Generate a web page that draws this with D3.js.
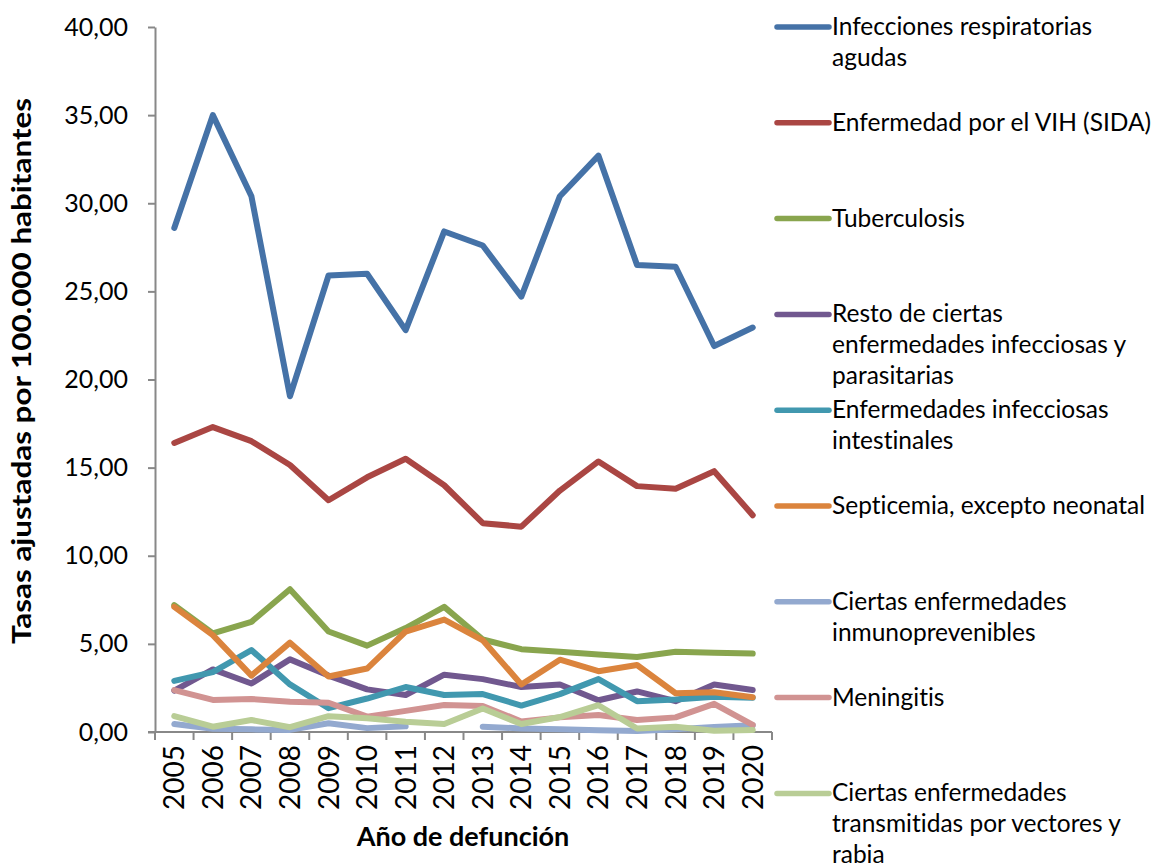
<!DOCTYPE html>
<html>
<head>
<meta charset="utf-8">
<script src="https://cdn.jsdelivr.net/npm/d3@7/dist/d3.min.js"></script>
<style>
  body { margin: 0; background: #fff; }
  svg { display: block; }
  text { font-variant-ligatures: none; }
</style>
</head>
<body>
<svg id="chart" width="1156" height="867"></svg>
<script>
var years = ["2005","2006","2007","2008","2009","2010","2011","2012","2013","2014","2015","2016","2017","2018","2019","2020"];

var seriesNames = [
  ["Infecciones respiratorias", "agudas"],
  ["Enfermedad por el VIH (SIDA)"],
  ["Tuberculosis"],
  ["Resto de ciertas", "enfermedades infecciosas y", "parasitarias"],
  ["Enfermedades infecciosas", "intestinales"],
  ["Septicemia, excepto neonatal"],
  ["Ciertas enfermedades", "inmunoprevenibles"],
  ["Meningitis"],
  ["Ciertas enfermedades", "transmitidas por vectores y", "rabia"]
];

var respiratorias = [28.6, 35.0, 30.4, 19.05, 25.9, 26.0, 22.8, 28.4, 27.6, 24.7, 30.4, 32.7, 26.5, 26.4, 21.9, 22.95];
var vih = [16.4, 17.3, 16.5, 15.15, 13.15, 14.45, 15.5, 14.0, 11.85, 11.65, 13.7, 15.35, 13.95, 13.8, 14.8, 12.3];
var tuberculosis = [7.2, 5.6, 6.25, 8.1, 5.7, 4.9, 5.9, 7.1, 5.25, 4.7, 4.55, 4.4, 4.25, 4.55, 4.5, 4.45];
var restoInfecciosas = [2.35, 3.55, 2.75, 4.12, 3.2, 2.42, 2.1, 3.25, 3.0, 2.55, 2.7, 1.8, 2.3, 1.75, 2.7, 2.38];
var intestinales = [2.9, 3.4, 4.65, 2.7, 1.35, 1.9, 2.55, 2.1, 2.15, 1.5, 2.15, 3.0, 1.75, 1.85, 2.0, 1.95];
var septicemia = [7.1, 5.5, 3.2, 5.07, 3.15, 3.6, 5.7, 6.38, 5.2, 2.7, 4.1, 3.45, 3.8, 2.2, 2.25, 1.97];
var inmunoprevenibles = [0.45, 0.18, 0.15, 0.12, 0.5, 0.22, 0.32, null, 0.3, 0.2, 0.15, 0.1, 0.05, 0.15, 0.28, 0.38];
var meningitis = [2.38, 1.82, 1.87, 1.72, 1.66, 0.87, 1.2, 1.53, 1.48, 0.6, 0.83, 0.96, 0.68, 0.83, 1.6, 0.4];
var vectores = [0.9, 0.3, 0.68, 0.27, 0.9, 0.78, 0.58, 0.45, 1.33, 0.45, 0.85, 1.52, 0.2, 0.3, 0.07, 0.12];

var seriesValues = [respiratorias, vih, tuberculosis, restoInfecciosas, intestinales, septicemia, inmunoprevenibles, meningitis, vectores];
var colors = ["#4572A7", "#AA4643", "#89A54E", "#71588F", "#4198AF", "#DB843D", "#93A9CF", "#D19392", "#B9CD96"];
var yTicks = [0, 5, 10, 15, 20, 25, 30, 35, 40];

var svg = d3.select("#chart");
var plotLeft = 155, plotRight = 772, plotTop = 27, plotBottom = 732;
var fmt = function(v) { return d3.format(".2f")(v).replace(".", ","); };

var x = d3.scaleBand().domain(years).range([plotLeft, plotRight]).padding(0);
var y = d3.scaleLinear().domain([0, 40]).range([plotBottom, plotTop]);

// y axis
var yAxis = svg.append("g")
  .attr("transform", "translate(" + plotLeft + ",0)")
  .call(d3.axisLeft(y).tickValues(yTicks).tickFormat(fmt).tickSize(7).tickSizeOuter(0));
yAxis.select(".domain").attr("stroke", "#888").attr("stroke-width", 2);
yAxis.selectAll(".tick line").attr("stroke", "#888").attr("stroke-width", 2);
yAxis.selectAll(".tick text")
  .attr("x", -27)
  .attr("fill", "#000")
  .style("font-family", "Lato, 'Open Sans', sans-serif")
  .style("font-size", "25px");

// x axis
var xAxisG = svg.append("g").attr("transform", "translate(0," + plotBottom + ")");
xAxisG.append("line")
  .attr("x1", plotLeft - 7).attr("x2", plotRight)
  .attr("stroke", "#888").attr("stroke-width", 2);
xAxisG.selectAll(".xtick")
  .data(years.concat(["end"]))
  .enter().append("line")
  .attr("x1", function(d, i) { return i < years.length ? x(d) : plotRight; })
  .attr("x2", function(d, i) { return i < years.length ? x(d) : plotRight; })
  .attr("y1", 0).attr("y2", 8)
  .attr("stroke", "#888").attr("stroke-width", 2);
xAxisG.selectAll(".xlabel")
  .data(years)
  .enter().append("text")
  .attr("transform", function(d) {
    return "translate(" + (x(d) + x.bandwidth() / 2 + 10) + ",13) rotate(-90)";
  })
  .attr("text-anchor", "end")
  .style("font-family", "Lato, 'Open Sans', sans-serif")
  .style("font-size", "28px")
  .text(function(d) { return d; });

// axis titles
svg.append("text")
  .attr("transform", "translate(31," + 371 + ") rotate(-90)")
  .attr("text-anchor", "middle")
  .attr("textLength", 546)
  .attr("lengthAdjust", "spacingAndGlyphs")
  .style("font-family", "Lato, sans-serif")
  .style("font-weight", "bold")
  .style("font-size", "27px")
  .text("Tasas ajustadas por 100.000 habitantes");

svg.append("text")
  .attr("x", 463).attr("y", 846)
  .attr("text-anchor", "middle")
  .style("font-family", "Lato, sans-serif")
  .style("font-weight", "bold")
  .style("font-size", "27px")
  .text("Año de defunción");

// lines
var line = d3.line()
  .defined(function(d) { return d != null; })
  .x(function(d, i) { return x(years[i]) + x.bandwidth() / 2; })
  .y(function(d) { return y(d); });

svg.append("g").selectAll("path")
  .data(seriesValues)
  .enter().append("path")
  .attr("d", line)
  .attr("fill", "none")
  .attr("stroke", function(d, i) { return colors[i]; })
  .attr("stroke-width", 6)
  .attr("stroke-linejoin", "round")
  .attr("stroke-linecap", "round");

// legend
var legend = svg.selectAll(".legend")
  .data(seriesNames)
  .enter().append("g")
  .attr("class", "legend")
  .attr("transform", function(d, i) { return "translate(775," + (27 + i * 95.8) + ")"; });

legend.append("line")
  .attr("x1", 2).attr("x2", 54)
  .attr("stroke", function(d, i) { return colors[i]; })
  .attr("stroke-width", 5.5)
  .attr("stroke-linecap", "round");

legend.append("text")
  .style("font-family", "Lato, 'Open Sans', sans-serif")
  .style("font-size", "24.5px")
  .selectAll("tspan")
  .data(function(d) { return d; })
  .enter().append("tspan")
  .attr("x", 57)
  .attr("y", function(d, i) { return 8 + i * 31; })
  .text(function(d) { return d; });
</script>
</body>
</html>
